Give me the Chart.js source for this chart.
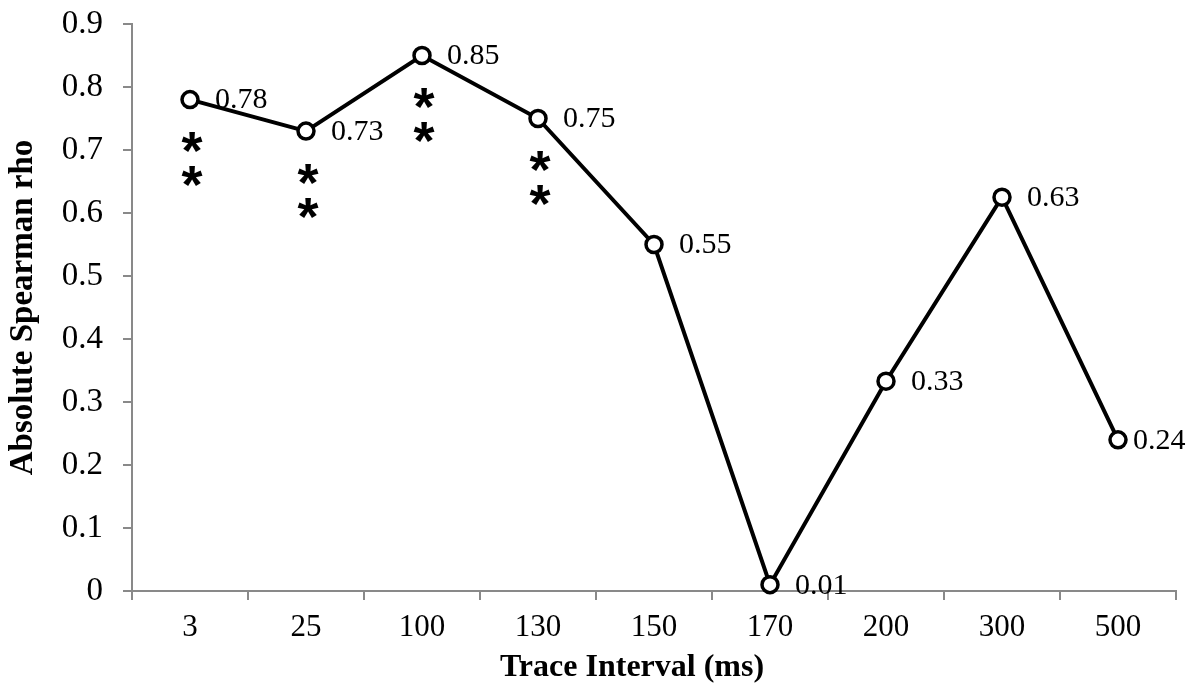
<!DOCTYPE html>
<html>
<head>
<meta charset="utf-8">
<script src="https://cdn.jsdelivr.net/npm/chart.js@4.4.1/dist/chart.umd.min.js"></script>
<style>
  html, body { margin: 0; padding: 0; background: #fff; }
  canvas { display: block; }
</style>
</head>
<body>
<canvas id="rhoChart" width="1191" height="688"></canvas>
<script>
// data
var intervals = ['3', '25', '100', '130', '150', '170', '200', '300', '500'];
var rhoValues = [0.78, 0.73, 0.85, 0.75, 0.55, 0.01, 0.333, 0.625, 0.24];
var sigMarks = ['**', '**', '**', '**', '', '', '', '', ''];
var yTickLabels = ['0', '0.1', '0.2', '0.3', '0.4', '0.5', '0.6', '0.7', '0.8', '0.9'];

var axisGray = '#898989';
var serif = '"Liberation Serif", "Times New Roman", serif';

Chart.defaults.font.family = serif;
Chart.defaults.font.size = 30;
Chart.defaults.color = '#000';

// value labels, significance asterisks and the x axis title
var annotate = {
    id: 'annotate',
    afterDatasetsDraw: function(chart) {
        var ctx = chart.ctx;
        var pts = chart.getDatasetMeta(0).data;
        ctx.save();
        ctx.fillStyle = '#000';

        ctx.font = '30px ' + serif;
        ctx.textAlign = 'left';
        ctx.textBaseline = 'middle';
        pts.forEach(function(pt, i) {
            var dx = i === pts.length - 1 ? 15 : 25;
            ctx.fillText(rhoValues[i].toFixed(2), pt.x + dx, pt.y + 1);
        });

        ctx.font = 'bold 54px "Liberation Sans", Arial, sans-serif';
        ctx.textAlign = 'center';
        ctx.textBaseline = 'alphabetic';
        var m = ctx.measureText('*');
        var half = (m.actualBoundingBoxAscent - m.actualBoundingBoxDescent) / 2;
        pts.forEach(function(pt, i) {
            for (var k = 0; k < sigMarks[i].length; k++) {
                var cy = pt.y + 43 + k * 34;
                ctx.fillText(sigMarks[i][k], pt.x + 2, cy + half);
            }
        });

        var area = chart.chartArea;
        ctx.font = 'bold 32px ' + serif;
        ctx.textBaseline = 'middle';
        ctx.fillText('Trace Interval (ms)', (area.left + area.right) / 2 - 22, area.bottom + 77);
        ctx.restore();
    }
};

var ctx = document.getElementById('rhoChart').getContext('2d');
var rhoChart = new Chart(ctx, {
    type: 'line',
    data: {
        labels: intervals,
        datasets: [{
            label: 'Absolute Spearman rho',
            data: rhoValues,
            borderColor: '#000',
            borderWidth: 4,
            tension: 0,
            pointRadius: 8,
            pointHoverRadius: 8,
            pointBorderWidth: 3.5,
            pointBackgroundColor: '#fff',
            pointBorderColor: '#000',
            clip: false
        }]
    },
    options: {
        responsive: false,
        animation: false,
        layout: {
            padding: { top: 24, right: 15, left: 0, bottom: 0 }
        },
        plugins: {
            legend: { display: false },
            tooltip: { enabled: false }
        },
        scales: {
            x: {
                offset: true,
                grid: {
                    offset: true,
                    drawOnChartArea: false,
                    drawTicks: true,
                    tickLength: 9,
                    color: axisGray,
                    lineWidth: 2
                },
                border: { color: axisGray, width: 2 },
                ticks: { padding: 9, maxRotation: 0, autoSkip: false, font: { size: 31 } },
                afterFit: function(scale) { scale.height = 97; }
            },
            y: {
                min: 0,
                max: 0.9,
                grid: {
                    drawOnChartArea: false,
                    drawTicks: true,
                    tickLength: 9,
                    color: axisGray,
                    lineWidth: 2
                },
                border: { color: axisGray, width: 2 },
                ticks: {
                    stepSize: 0.1,
                    padding: 20,
                    font: { size: 33 },
                    callback: function(value, index) { return yTickLabels[index]; }
                },
                title: {
                    display: true,
                    text: 'Absolute Spearman rho',
                    font: { weight: 'bold', size: 33 },
                    padding: { top: 4, bottom: 0 }
                },
                afterFit: function(scale) {
                    scale.width = 132;
                    scale.paddingTop = 0;
                    scale.paddingBottom = 0;
                }
            }
        }
    },
    plugins: [annotate]
});
</script>
</body>
</html>
